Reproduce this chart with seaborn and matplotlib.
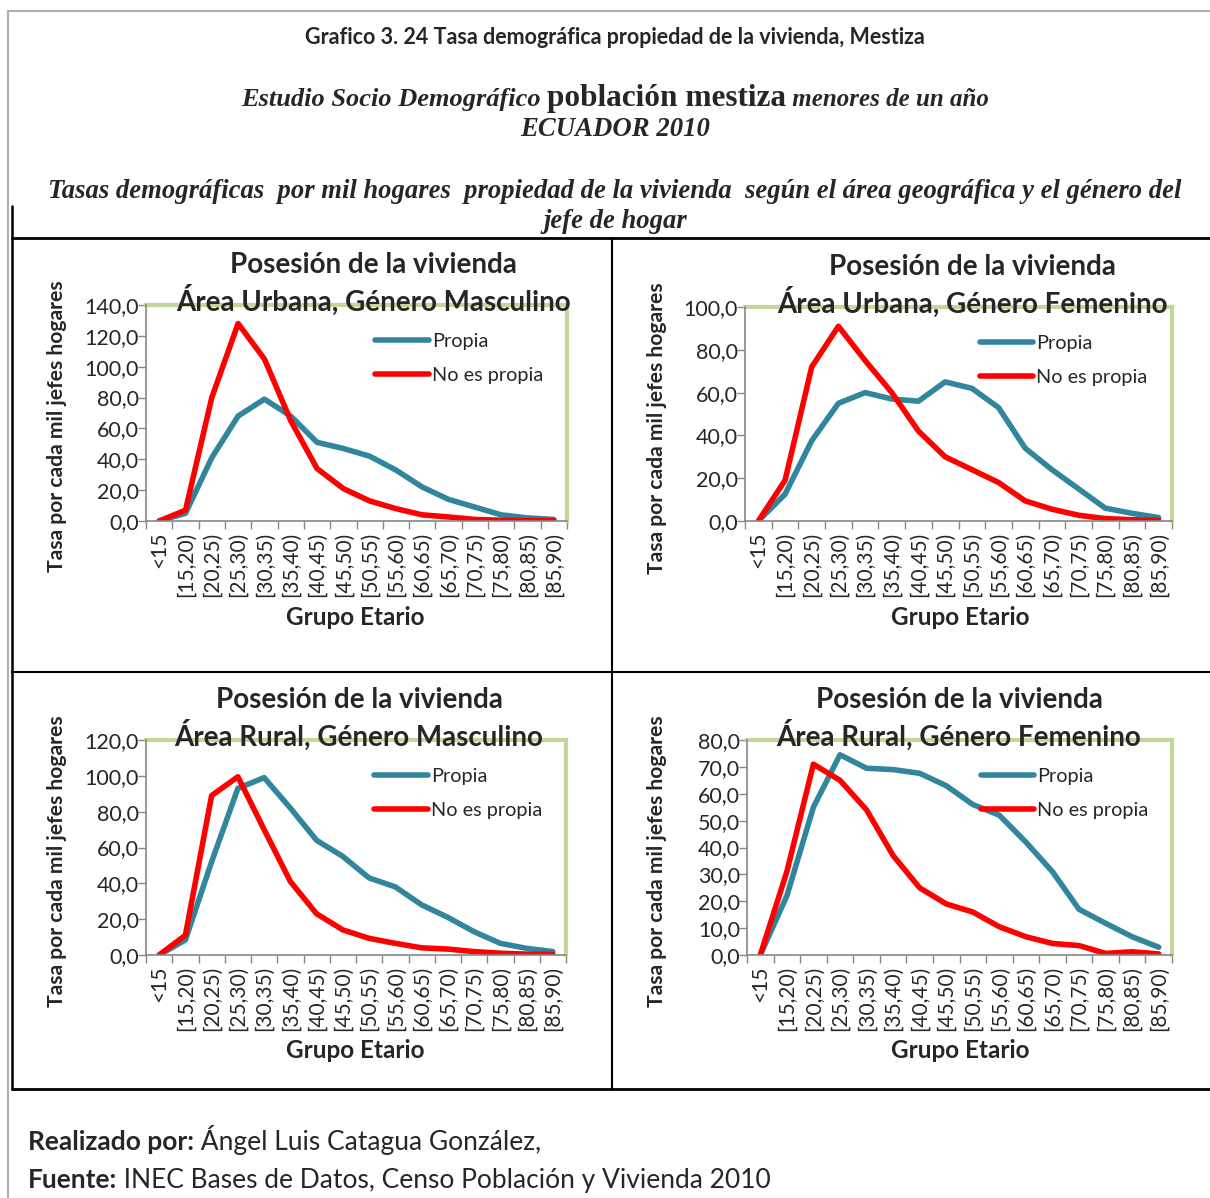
import matplotlib
matplotlib.use("Agg")
import matplotlib.pyplot as plt
import pandas as pd
import seaborn as sns
from matplotlib.lines import Line2D
from matplotlib.ticker import FuncFormatter, FixedLocator

# categorias de edad del jefe de hogar
grupos = ['<15', '[15,20)', '[20,25)', '[25,30)', '[30,35)', '[35,40)', '[40,45)', '[45,50)',
          '[50,55)', '[55,60)', '[60,65)', '[65,70)', '[70,75)', '[75,80)', '[80,85)', '[85,90)']
series = ['Propia', 'No es propia']

# tasas por mil hogares
urb_masc_propia = [0, 5, 41, 68, 79, 68, 51, 47, 42, 33, 22, 14, 9, 4, 2, 1]
urb_masc_no = [0, 7, 80, 128, 105, 65, 34, 21, 13, 8, 4, 2.6, 1, 0.5, 0.3, 0.2]
urb_fem_propia = [0, 12.5, 37.5, 55, 60, 57, 56, 65, 62, 53, 34, 24, 15, 6, 3.6, 1.6]
urb_fem_no = [0, 19, 72, 91, 75, 60, 42, 30, 24, 18, 9.4, 5.5, 2.7, 1.1, 0.6, 0.3]
rur_masc_propia = [0, 8.4, 52, 93, 99, 82, 64, 55, 43, 38, 28, 21, 13, 6.5, 3.7, 1.9]
rur_masc_no = [0, 11, 89, 99.5, 70, 41, 23, 14, 9.3, 6.5, 4, 3.3, 1.9, 1, 0.5, 0.3]
rur_fem_propia = [0, 22, 55, 74.5, 69.5, 69, 67.6, 63, 56, 52, 42, 31, 17, 11.8, 6.8, 2.9]
rur_fem_no = [0, 31, 71, 65, 54, 37, 25, 19, 16, 10.5, 6.8, 4.3, 3.5, 0.6, 1.2, 0.4]

subtitulos = ['Área Urbana, Género Masculino', 'Área Urbana, Género Femenino',
              'Área Rural, Género Masculino', 'Área Rural, Género Femenino']
y_max = [140, 100, 120, 80]
y_paso = [20, 20, 20, 10]

W, H = 1210, 1198
sns.set_style('white')
plt.rcParams['font.family'] = ['Lato', 'DejaVu Sans']
colores = {'Propia': '#31859c', 'No es propia': '#ff0000'}

fig = plt.figure(figsize=(W / 100, H / 100), dpi=100)


def fx(px):
    return px / W


def fy(py):
    return 1 - py / H


def linea(x0, y0, x1, y1, color='black', lw=1.5):
    fig.add_artist(Line2D([fx(x0), fx(x1)], [fy(y0), fy(y1)], color=color, lw=lw,
                          transform=fig.transFigure))


# marcos del documento
linea(8, 11, 1210, 11, color='#b0b0b0', lw=1.5)
linea(8, 11, 8, 1198, color='#b0b0b0', lw=1.5)
linea(12, 206, 12, 1089, lw=1.8)
linea(12, 238, 1210, 238, lw=2)
linea(612, 238, 612, 1089, lw=1.5)
linea(12, 672, 1210, 672, lw=1.5)
linea(12, 1089, 1210, 1089, lw=2)

# (izq, der, arriba, abajo) en pixeles, centro titulo, centro ylabel, centro xlabel
cajas = [
    (146, 567, 305, 521, 373, 57, 355),
    (745, 1172, 307, 521, 972, 657, 960),
    (146, 566, 740, 955, 359, 57, 355),
    (747, 1172, 740, 955, 959, 657, 960),
]
datos = [(urb_masc_propia, urb_masc_no), (urb_fem_propia, urb_fem_no),
         (rur_masc_propia, rur_masc_no), (rur_fem_propia, rur_fem_no)]

for i, ((l, r, t, b, tx, yx, xx), (propia, no), sub) in enumerate(zip(cajas, datos, subtitulos)):
    ax = fig.add_axes([fx(l), fy(b), (r - l) / W, (b - t) / H])
    df = pd.DataFrame({
        'grupo': grupos * 2,
        'tasa': propia + no,
        'serie': ['Propia'] * len(grupos) + ['No es propia'] * len(grupos),
    })
    sns.lineplot(data=df, x='grupo', y='tasa', hue='serie', hue_order=series, palette=colores,
                 sort=False, linewidth=4, solid_capstyle='round', solid_joinstyle='round', ax=ax)
    ax.set_xlim(-0.5, len(grupos) - 0.5)
    ax.set_ylim(0, y_max[i])
    ax.yaxis.set_major_locator(FixedLocator(range(0, y_max[i] + 1, y_paso[i])))
    ax.yaxis.set_major_formatter(FuncFormatter(lambda v, p: f'{v:.1f}'.replace('.', ',')))
    ax.xaxis.set_major_locator(FixedLocator([k - 0.5 for k in range(len(grupos) + 1)]))
    ax.xaxis.set_major_formatter(FuncFormatter(lambda v, p: ''))
    ax.set_xticks(range(len(grupos)), grupos, minor=True)
    ax.tick_params(axis='x', which='minor', length=0, pad=8, labelsize=15, labelrotation=90)
    ax.tick_params(axis='x', which='major', length=6, width=1, color='#868686', direction='out')
    ax.tick_params(axis='y', length=6, width=1, color='#868686', direction='out', pad=-1,
                   labelsize=15.5)
    ax.tick_params(left=True, bottom=True)
    for s in ['top', 'right']:
        ax.spines[s].set_color('#c4d79b')
        ax.spines[s].set_linewidth(3)
    for s in ['left', 'bottom']:
        ax.spines[s].set_color('#868686')
        ax.spines[s].set_linewidth(1.2)
        ax.spines[s].set_zorder(5)
    ax.set_xlabel('')
    ax.set_ylabel('')

    hs, ls = ax.get_legend_handles_labels()
    ax.legend(hs, ls, loc='center left', bbox_to_anchor=(0.544 if i % 2 == 0 else 0.55, 0.752),
              frameon=False, fontsize=14.3, handlelength=2.7, handletextpad=0.15,
              labelspacing=0.85, borderpad=0, borderaxespad=0)

    fig.text(fx(tx), fy(t - 40), 'Posesión de la vivienda', ha='center', va='center',
             fontsize=20, fontweight='bold')
    fig.text(fx(tx), fy(t - 5), sub, ha='center', va='center', fontsize=20, fontweight='bold')
    fig.text(fx(yx), fy(t + 121), 'Tasa por cada mil jefes hogares', rotation=90,
             ha='center', va='center', fontsize=15.2, fontweight='bold')
    fig.text(fx(xx), fy(b + 96), 'Grupo Etario', ha='center', va='center', fontsize=17.5,
             fontweight='bold')

renderer = fig.canvas.get_renderer()


def texto_mixto(py, partes, centro=None, x=None):
    arts = [fig.text(0, fy(py), s, va='baseline', ha='left', **kw) for s, kw in partes]
    anchos = [a.get_window_extent(renderer).width for a in arts]
    x0 = centro - sum(anchos) / 2 if centro is not None else x
    for a, w in zip(arts, anchos):
        a.set_x(fx(x0))
        x0 += w


serif = ['Liberation Serif', 'DejaVu Serif']
fig.text(fx(615), fy(37), 'Grafico 3. 24 Tasa demográfica propiedad de la vivienda, Mestiza',
         ha='center', va='center', fontsize=15.5, fontweight='bold')
texto_mixto(106, [
    ('Estudio Socio Demográfico ', dict(family=serif, style='italic', weight='bold', fontsize=19)),
    ('población mestiza', dict(family=serif, weight='bold', fontsize=22.5)),
    (' menores de un año', dict(family=serif, style='italic', weight='bold', fontsize=18)),
], centro=615)
fig.text(fx(615), fy(130), 'ECUADOR 2010', ha='center', va='center', family=serif,
         style='italic', weight='bold', fontsize=19.3)
fig.text(fx(615), fy(192),
         'Tasas demográficas  por mil hogares  propiedad de la vivienda  según el área geográfica y el género del',
         ha='center', va='center', family=serif, style='italic', weight='bold', fontsize=19.2)
fig.text(fx(615), fy(222), 'jefe de hogar', ha='center', va='center', family=serif,
         style='italic', weight='bold', fontsize=19.2)

texto_mixto(1150, [('Realizado por:', dict(weight='bold', fontsize=19)),
                   (' Ángel Luis Catagua González,', dict(fontsize=19))], x=28)
texto_mixto(1188, [('Fuente:', dict(weight='bold', fontsize=19)),
                   (' INEC Bases de Datos, Censo Población y Vivienda 2010', dict(fontsize=19))],
            x=28)

fig.savefig('out.png', dpi=100)
